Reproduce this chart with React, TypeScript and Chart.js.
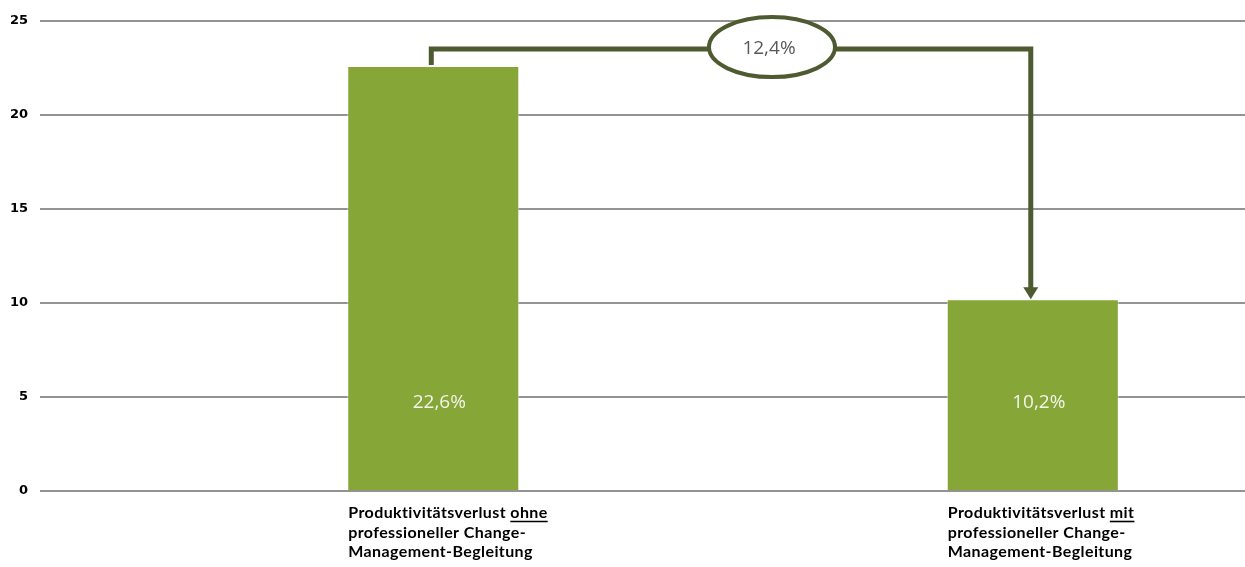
import React, { useEffect, useRef } from "react";
import { Chart, registerables } from "chart.js";

Chart.register(...registerables);

// ---- data ----
const CATEGORY_POSITIONS = [0, 1];
const VALUES = [22.6, 10.2];
const CATEGORY_LABELS = [
  ["Produktivitätsverlust _ohne_", "professioneller Change-", "Management-Begleitung"],
  ["Produktivitätsverlust _mit_", "professioneller Change-", "Management-Begleitung"],
];
const Y_TICKS = [0, 5, 10, 15, 20, 25];

const BAR_COLOR = "#86A637";
const ARROW_COLOR = "#4E5A30";

const fmt = (v: number) => v.toFixed(1).replace(".", ",") + "%";

const annotationPlugin = {
  id: "annot",
  afterDatasetsDraw(chart: any) {
    const ctx: any = chart.ctx;
    const meta = chart.getDatasetMeta(0);
    const yScale = chart.scales.y;
    const area = chart.chartArea;
    const bars = meta.data as any[];
    ctx.save();

    // value labels inside bars
    ctx.font = "19px 'Open Sans'";
    ctx.fillStyle = "#F2F4EC";
    ctx.textAlign = "center";
    ctx.textBaseline = "middle";
    const labelY = yScale.getPixelForValue(4.7);
    bars.forEach((b, i) => {
      ctx.fillText(fmt(VALUES[i]), b.x + 6, labelY);
    });

    // category labels
    ctx.textAlign = "left";
    ctx.textBaseline = "alphabetic";
    ctx.fillStyle = "#000";
    ctx.strokeStyle = "#000";
    ctx.font = "bold 16px Lato";
    ctx.letterSpacing = "0.4px";
    bars.forEach((b, i) => {
      const left = b.x - b.width / 2 + 1;
      CATEGORY_LABELS[i].forEach((line, li) => {
        const baseY = area.bottom + 27 + li * 19.5;
        const parts = line.split("_");
        let x = left;
        parts.forEach((p, pi) => {
          if (!p) return;
          ctx.fillText(p, x, baseY);
          const w = ctx.measureText(p).width;
          if (pi % 2 === 1) {
            ctx.lineWidth = 1.6;
            ctx.beginPath();
            ctx.moveTo(x, baseY + 3.5);
            ctx.lineTo(x + w, baseY + 3.5);
            ctx.stroke();
          }
          x += w;
        });
      });
    });
    ctx.letterSpacing = "0px";

    // connector arrow
    const b1 = bars[0];
    const b2 = bars[1];
    const yc = b1.y - 17;
    const arrowH = 12;
    const arrowW = 15;
    ctx.strokeStyle = ARROW_COLOR;
    ctx.fillStyle = ARROW_COLOR;
    ctx.lineWidth = 5;
    ctx.lineJoin = "miter";
    ctx.lineCap = "butt";
    ctx.beginPath();
    ctx.moveTo(b1.x - 2, b1.y - 1);
    ctx.lineTo(b1.x - 2, yc);
    ctx.lineTo(b2.x - 2, yc);
    ctx.lineTo(b2.x - 2, b2.y - arrowH + 1);
    ctx.stroke();
    ctx.beginPath();
    ctx.moveTo(b2.x - 2 - arrowW / 2, b2.y - arrowH);
    ctx.lineTo(b2.x - 2 + arrowW / 2, b2.y - arrowH);
    ctx.lineTo(b2.x - 2, b2.y);
    ctx.closePath();
    ctx.fill();

    // ellipse with difference
    const ex = b1.x + 0.565 * (b2.x - b1.x);
    const ey = yc - 2;
    ctx.beginPath();
    ctx.ellipse(ex, ey, 63, 30, 0, 0, Math.PI * 2);
    ctx.fillStyle = "#fff";
    ctx.fill();
    ctx.lineWidth = 4;
    ctx.strokeStyle = ARROW_COLOR;
    ctx.stroke();
    ctx.fillStyle = "#595959";
    ctx.font = "19px 'Open Sans'";
    ctx.textAlign = "center";
    ctx.textBaseline = "middle";
    ctx.fillText(fmt(VALUES[0] - VALUES[1]), ex - 3, ey + 1);

    ctx.restore();
  },
};

export default function App() {
  const ref = useRef<HTMLCanvasElement>(null);
  useEffect(() => {
    document.body.style.margin = "0";
    const chart = new Chart(ref.current!, {
      type: "bar",
      data: {
        datasets: [
          {
            data: CATEGORY_POSITIONS.map((x, i) => ({ x, y: VALUES[i] })),
            backgroundColor: BAR_COLOR,
            borderColor: "rgba(255,255,255,0.55)",
            borderWidth: 1,
            categoryPercentage: 1,
            barPercentage: 0.287,
          } as any,
        ],
      },
      options: {
        animation: false,
        responsive: false,
        maintainAspectRatio: false,
        layout: { padding: { top: 21, bottom: 76, left: 0, right: 0 } },
        plugins: { legend: { display: false }, tooltip: { enabled: false } },
        scales: {
          x: {
            type: "linear",
            display: false,
            offset: false,
            min: -0.656,
            max: 1.354,
            grid: { offset: false },
            afterBuildTicks: (scale: any) => {
              scale.ticks = CATEGORY_POSITIONS.map((v) => ({ value: v }));
            },
          },
          y: {
            min: 0,
            max: 25,
            afterBuildTicks: (scale: any) => {
              scale.ticks = Y_TICKS.map((v) => ({ value: v }));
            },
            afterFit: (scale: any) => {
              scale.width = 40;
            },
            border: { display: false },
            grid: { color: "#939393", lineWidth: 2, drawTicks: false },
            ticks: {
              padding: 12,
              color: "#000",
              font: { family: "'DejaVu Sans'", weight: "bold", size: 13 },
            },
          },
        },
      },
      plugins: [annotationPlugin],
    });
    return () => chart.destroy();
  }, []);
  return (
    <div style={{ width: 1245, height: 567 }}>
      <canvas ref={ref} width={1245} height={567} style={{ display: "block" }} />
    </div>
  );
}
